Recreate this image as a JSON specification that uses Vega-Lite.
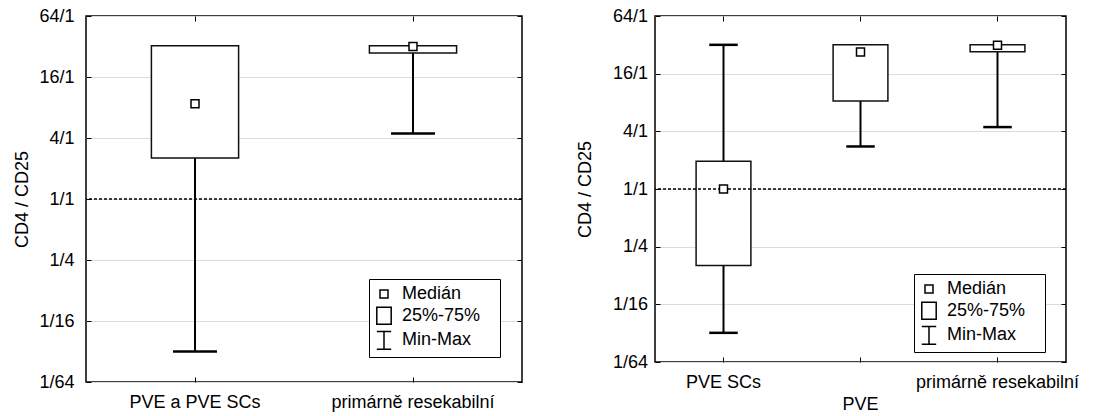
{
  "$schema": "https://vega.github.io/schema/vega-lite/v6.json",
  "padding": {"left": 13, "top": 6, "right": 0, "bottom": 0},
  "spacing": 51,
  "datasets": {
    "left": [
      {"g": "PVE a PVE SCs", "min": 0.0313, "q1": 2.54, "med": 8.7, "q3": 32.5, "max": 32.5},
      {"g": "primárně resekabilní", "min": 4.44, "q1": 27.6, "med": 32, "q3": 32.5, "max": 32.5}
    ],
    "right": [
      {"g": "PVE SCs", "min": 0.0315, "q1": 0.159, "med": 1.0, "q3": 1.95, "max": 32},
      {"g": "PVE", "min": 2.78, "q1": 8.27, "med": 26.9, "q3": 32, "max": 32},
      {"g": "primárně resekabilní", "min": 4.43, "q1": 27.1, "med": 31.7, "q3": 32, "max": 32}
    ]
  },
  "hconcat": [
    {
      "width": 436,
      "height": 366,
      "data": {"name": "left"},
      "layer": [
        {
          "mark": {"type": "rule", "color": "black", "strokeWidth": 2},
          "encoding": {
            "x": {"field": "g", "type": "nominal", "scale": {"type": "band", "paddingInner": 0, "paddingOuter": 0, "domain": ["PVE a PVE SCs", "primárně resekabilní"]},
              "axis": {"orient": "bottom", "title": null, "labelAngle": 0, "tickSize": -5, "labelPadding": 16, "bandPosition": 0.5, "labelOverlap": false, "labelLimit": 0}},
            "y": {"field": "min", "type": "quantitative", "scale": {"type": "log", "base": 2, "domain": [0.015625, 64], "nice": false},
              "axis": {"orient": "left", "values": [0.015625, 0.0625, 0.25, 1, 4, 16, 64], "labelExpr": "datum.value >= 1 ? format(datum.value, 'd') + '/1' : '1/' + format(1 / datum.value, 'd')", "tickSize": -5, "labelPadding": 17, "grid": true, "title": "CD4 / CD25", "titlePadding": 7}},
            "y2": {"field": "max"}
          }
        },
        {
          "mark": {"type": "tick", "color": "black", "thickness": 2.5, "size": 44, "opacity": 1},
          "encoding": {
            "x": {"field": "g", "type": "nominal", "axis": null},
            "y": {"field": "min", "type": "quantitative", "axis": null}
          }
        },
        {
          "transform": [{"filter": "datum.max > datum.q3"}],
          "mark": {"type": "tick", "color": "black", "thickness": 2.5, "size": 44, "opacity": 1},
          "encoding": {
            "x": {"field": "g", "type": "nominal", "axis": null},
            "y": {"field": "max", "type": "quantitative", "axis": null}
          }
        },
        {
          "mark": {"type": "bar", "fill": "white", "stroke": "#111111", "strokeWidth": 1.5, "width": {"band": 0.4}},
          "encoding": {
            "x": {"field": "g", "type": "nominal", "axis": {"orient": "top", "title": null, "labels": false, "tickSize": -5, "bandPosition": 0.5, "grid": false}},
            "y": {"field": "q1", "type": "quantitative", "axis": {"orient": "right", "title": null, "labels": false, "tickSize": -5, "grid": false, "values": [0.015625, 0.0625, 0.25, 1, 4, 16, 64]}},
            "y2": {"field": "q3"}
          }
        },
        {
          "data": {"values": [{}]},
          "mark": {"type": "rule", "color": "black", "strokeWidth": 1.5, "strokeDash": [3, 2]},
          "encoding": {"y": {"datum": 1, "type": "quantitative", "axis": null}}
        },
        {
          "mark": {"type": "point", "filled": true, "fill": "white", "stroke": "black", "strokeWidth": 1.5, "size": 400, "opacity": 1},
          "encoding": {
            "x": {"field": "g", "type": "nominal", "axis": null},
            "y": {"field": "med", "type": "quantitative", "axis": null},
            "shape": {"datum": "Medián", "type": "nominal",
              "scale": {"domain": ["Medián", "25%-75%", "Min-Max"], "range": ["M-0.4,-0.4H0.4V0.4H-0.4Z", "M-0.72,-0.85H0.72V0.85H-0.72Z", "M-0.72,-0.88H0.72M0,-0.88V0.88M-0.72,0.88H0.72"]},
              "legend": {"title": null, "orient": "none", "legendX": 283, "legendY": 263, "strokeColor": "black", "fillColor": "white", "padding": 4, "symbolSize": 400, "labelFontSize": 18, "labelColor": "black", "labelOffset": 7, "rowPadding": 0.7, "labelExpr": "datum.label + '\u00a0\u00a0\u00a0\u200b'",
                "encode": {"symbols": {"fill": {"value": "white"}, "stroke": {"value": "black"}, "strokeWidth": {"value": 1.5}}}}}
          }
        }
      ],
      "resolve": {"axis": {"x": "independent", "y": "independent"}}
    },
    {
      "width": 411,
      "height": 346,
      "data": {"name": "right"},
      "layer": [
        {
          "mark": {"type": "rule", "color": "black", "strokeWidth": 2},
          "encoding": {
            "x": {"field": "g", "type": "nominal", "scale": {"type": "band", "paddingInner": 0, "paddingOuter": 0, "domain": ["PVE SCs", "PVE", "primárně resekabilní"]},
              "axis": {"orient": "bottom", "title": null, "labelAngle": 0, "tickSize": -5, "labelPadding": 16, "bandPosition": 0.5, "labelOverlap": false, "labelLimit": 0, "labelLineHeight": 22.6, "labelExpr": "datum.value == 'PVE' ? ['', 'PVE'] : datum.label"}},
            "y": {"field": "min", "type": "quantitative", "scale": {"type": "log", "base": 2, "domain": [0.015625, 64], "nice": false},
              "axis": {"orient": "left", "values": [0.015625, 0.0625, 0.25, 1, 4, 16, 64], "labelExpr": "datum.value >= 1 ? format(datum.value, 'd') + '/1' : '1/' + format(1 / datum.value, 'd')", "tickSize": -5, "labelPadding": 12.5, "grid": true, "title": "CD4 / CD25", "titlePadding": 18}},
            "y2": {"field": "max"}
          }
        },
        {
          "mark": {"type": "tick", "color": "black", "thickness": 2.5, "size": 28.5, "opacity": 1},
          "encoding": {
            "x": {"field": "g", "type": "nominal", "axis": null},
            "y": {"field": "min", "type": "quantitative", "axis": null}
          }
        },
        {
          "transform": [{"filter": "datum.max > datum.q3"}],
          "mark": {"type": "tick", "color": "black", "thickness": 2.5, "size": 28.5, "opacity": 1},
          "encoding": {
            "x": {"field": "g", "type": "nominal", "axis": null},
            "y": {"field": "max", "type": "quantitative", "axis": null}
          }
        },
        {
          "mark": {"type": "bar", "fill": "white", "stroke": "#111111", "strokeWidth": 1.5, "width": {"band": 0.4}},
          "encoding": {
            "x": {"field": "g", "type": "nominal", "axis": {"orient": "top", "title": null, "labels": false, "tickSize": -5, "bandPosition": 0.5, "grid": false}},
            "y": {"field": "q1", "type": "quantitative", "axis": {"orient": "right", "title": null, "labels": false, "tickSize": -5, "grid": false, "values": [0.015625, 0.0625, 0.25, 1, 4, 16, 64]}},
            "y2": {"field": "q3"}
          }
        },
        {
          "data": {"values": [{}]},
          "mark": {"type": "rule", "color": "black", "strokeWidth": 1.5, "strokeDash": [3, 2]},
          "encoding": {"y": {"datum": 1, "type": "quantitative", "axis": null}}
        },
        {
          "mark": {"type": "point", "filled": true, "fill": "white", "stroke": "black", "strokeWidth": 1.5, "size": 400, "opacity": 1},
          "encoding": {
            "x": {"field": "g", "type": "nominal", "axis": null},
            "y": {"field": "med", "type": "quantitative", "axis": null},
            "shape": {"datum": "Medián", "type": "nominal",
              "scale": {"domain": ["Medián", "25%-75%", "Min-Max"], "range": ["M-0.4,-0.4H0.4V0.4H-0.4Z", "M-0.72,-0.85H0.72V0.85H-0.72Z", "M-0.72,-0.88H0.72M0,-0.88V0.88M-0.72,0.88H0.72"]},
              "legend": {"title": null, "orient": "none", "legendX": 259, "legendY": 258, "strokeColor": "black", "fillColor": "white", "padding": 4, "symbolSize": 400, "labelFontSize": 18, "labelColor": "black", "labelOffset": 7, "rowPadding": 0.7, "labelExpr": "datum.label + '\u00a0\u00a0\u00a0\u200b'",
                "encode": {"symbols": {"fill": {"value": "white"}, "stroke": {"value": "black"}, "strokeWidth": {"value": 1.5}}}}}
          }
        }
      ],
      "resolve": {"axis": {"x": "independent", "y": "independent"}}
    }
  ],
  "resolve": {"scale": {"shape": "independent"}, "legend": {"shape": "independent"}},
  "config": {
    "font": "Liberation Sans",
    "view": {"stroke": "black", "strokeWidth": 1.5},
    "axis": {"labelFont": "Liberation Sans", "labelFontSize": 18, "labelColor": "black", "tickColor": "black", "tickWidth": 1, "domain": false, "titleFont": "Liberation Sans", "titleFontSize": 18, "titleFontWeight": "normal", "titleColor": "black", "gridColor": "#dcdcdc", "gridWidth": 1},
    "legend": {"labelFont": "Liberation Sans"}
  }
}
